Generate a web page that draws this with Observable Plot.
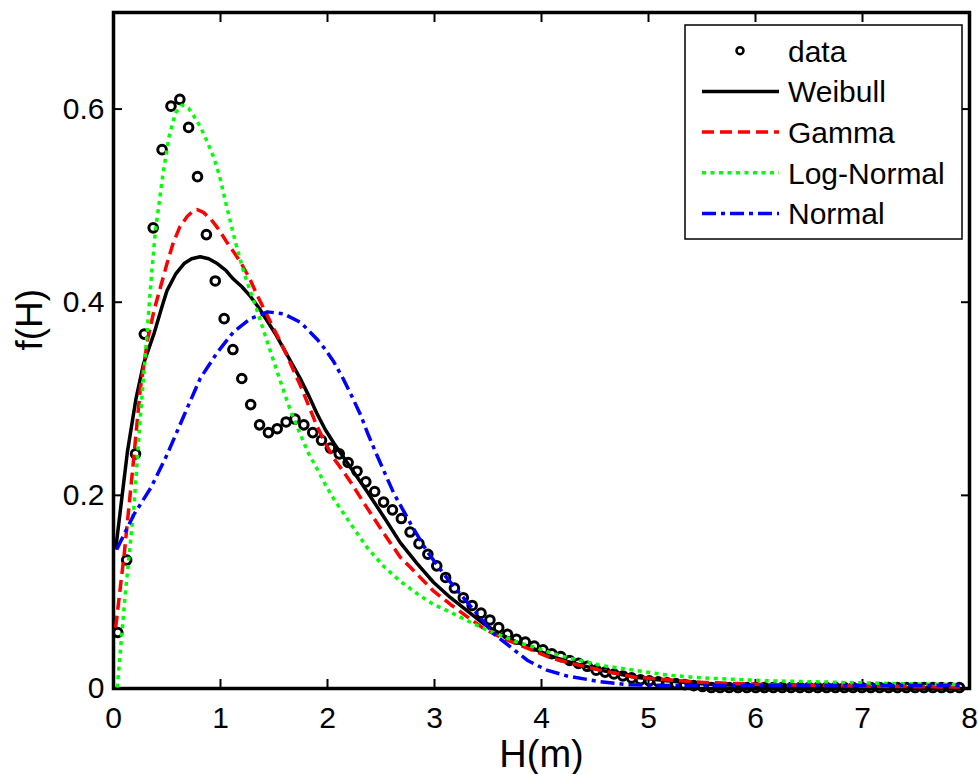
<!DOCTYPE html>
<html><head><meta charset="utf-8">
<script src="https://cdn.jsdelivr.net/npm/d3@7"></script>
<script src="https://cdn.jsdelivr.net/npm/@observablehq/plot@0.6"></script>
<style>body{margin:0;background:#fff}</style>
</head><body><div id="chart"></div>
<script>
// ---- data ----
const dataX = [0.040,0.123,0.206,0.288,0.371,0.454,0.537,0.620,0.702,0.785,0.868,0.951,1.034,1.116,1.199,1.282,1.365,1.448,1.530,1.613,1.696,1.779,1.862,1.944,2.027,2.110,2.193,2.276,2.358,2.441,2.524,2.607,2.690,2.772,2.855,2.938,3.021,3.104,3.186,3.269,3.352,3.435,3.518,3.600,3.683,3.766,3.849,3.932,4.014,4.097,4.180,4.263,4.346,4.428,4.511,4.594,4.677,4.760,4.842,4.925,5.008,5.091,5.174,5.256,5.339,5.422,5.505,5.588,5.670,5.753,5.836,5.919,6.002,6.084,6.167,6.250,6.333,6.416,6.498,6.581,6.664,6.747,6.830,6.912,6.995,7.078,7.161,7.244,7.326,7.409,7.492,7.575,7.658,7.740,7.823,7.906];
const dataY = [0.058,0.133,0.243,0.367,0.477,0.558,0.603,0.610,0.581,0.530,0.470,0.422,0.383,0.351,0.321,0.294,0.273,0.265,0.269,0.276,0.279,0.273,0.265,0.257,0.249,0.243,0.234,0.225,0.214,0.204,0.193,0.185,0.176,0.162,0.150,0.139,0.127,0.115,0.104,0.094,0.086,0.078,0.071,0.063,0.056,0.051,0.048,0.044,0.040,0.036,0.033,0.029,0.026,0.023,0.019,0.017,0.015,0.013,0.011,0.009,0.008,0.007,0.006,0.005,0.004,0.003,0.002,0.001,0.001,0.001,0.001,0.001,0.001,0.001,0.001,0.001,0.001,0.001,0.001,0.001,0.001,0.001,0.001,0.001,0.001,0.001,0.001,0.001,0.001,0.001,0.001,0.001,0.001,0.001,0.001,0.001];

const weibullX = [0.02,0.13,0.21,0.28,0.38,0.46,0.50,0.58,0.66,0.73,0.81,0.89,0.97,1.05,1.12,1.20,1.28,1.36,1.44,1.52,1.59,1.67,1.75,1.83,1.90,1.98,2.06,2.14,2.22,2.37,2.53,2.68,2.84,2.99,3.15,3.31,3.46,3.62,3.77,3.93,4.08,4.24,4.55,4.86,5.17,5.49,6.11,6.73,7.35,7.91];
const weibullY = [0.144,0.245,0.300,0.336,0.368,0.398,0.412,0.429,0.440,0.445,0.447,0.445,0.440,0.433,0.424,0.416,0.406,0.394,0.380,0.366,0.352,0.336,0.320,0.302,0.285,0.268,0.254,0.241,0.228,0.204,0.177,0.151,0.129,0.110,0.094,0.080,0.067,0.056,0.048,0.041,0.034,0.028,0.019,0.012,0.008,0.005,0.002,0.001,0.0005,0.0002];

const gammaX = [0.02,0.10,0.18,0.25,0.32,0.38,0.44,0.50,0.56,0.62,0.69,0.74,0.78,0.84,0.91,0.98,1.06,1.13,1.19,1.27,1.34,1.42,1.50,1.56,1.62,1.68,1.75,1.82,1.90,1.98,2.06,2.14,2.22,2.37,2.53,2.68,2.84,2.99,3.15,3.31,3.46,3.62,3.77,3.93,4.08,4.24,4.55,4.86,5.17,5.49,6.11,6.73,7.35,7.91];
const gammaY = [0.063,0.139,0.228,0.310,0.362,0.392,0.416,0.440,0.462,0.478,0.489,0.494,0.496,0.493,0.486,0.476,0.462,0.451,0.441,0.425,0.408,0.390,0.372,0.359,0.345,0.330,0.313,0.294,0.272,0.254,0.238,0.226,0.213,0.187,0.160,0.136,0.118,0.101,0.087,0.074,0.062,0.053,0.046,0.039,0.032,0.027,0.019,0.012,0.009,0.0065,0.004,0.003,0.002,0.0015];

const logNormalX = [0.035,0.11,0.19,0.25,0.30,0.35,0.39,0.46,0.52,0.58,0.64,0.70,0.75,0.82,0.88,0.94,0.99,1.06,1.14,1.22,1.34,1.44,1.56,1.65,1.75,1.82,1.90,1.98,2.06,2.14,2.22,2.37,2.53,2.68,2.84,2.99,3.15,3.31,3.46,3.62,3.77,3.93,4.08,4.24,4.55,4.86,5.17,5.49,6.11,6.73,7.35,7.91];
const logNormalY = [0.001,0.098,0.187,0.280,0.348,0.421,0.472,0.531,0.572,0.596,0.604,0.601,0.593,0.580,0.565,0.549,0.531,0.498,0.462,0.430,0.392,0.358,0.318,0.289,0.262,0.244,0.228,0.211,0.196,0.183,0.170,0.146,0.126,0.111,0.098,0.087,0.079,0.070,0.062,0.055,0.048,0.043,0.037,0.032,0.024,0.019,0.014,0.011,0.008,0.0065,0.005,0.004];

const normalX = [0.03,0.19,0.35,0.50,0.66,0.81,0.97,1.12,1.28,1.44,1.59,1.75,1.90,1.98,2.06,2.15,2.23,2.31,2.38,2.46,2.54,2.62,2.70,2.78,2.93,3.09,3.24,3.40,3.55,3.71,3.87,4.05,4.24,4.55,4.80,5.20,5.80,6.50,7.20,7.91];
const normalY = [0.144,0.180,0.208,0.242,0.283,0.321,0.348,0.369,0.383,0.390,0.388,0.379,0.362,0.351,0.338,0.320,0.302,0.283,0.263,0.242,0.222,0.202,0.186,0.170,0.142,0.118,0.098,0.077,0.057,0.043,0.029,0.019,0.013,0.007,0.004,0.003,0.003,0.003,0.003,0.003];

const xTicks = [0,1,2,3,4,5,6,7,8];
const yTicks = [0,0.2,0.4,0.6];
const legendLabels = ["data","Weibull","Gamma","Log-Normal","Normal"];
const xLabel = "H(m)";
const yLabel = "f(H)";

// ---- drawing ----
const font = "'Liberation Sans', Arial, Helvetica, sans-serif";
const rows = (xs, ys) => xs.map((x, i) => ({x, y: ys[i]}));
const seriesStyle = [
  {stroke: "#000000", dash: null},
  {stroke: "#ff0000", dash: "12,6"},
  {stroke: "#00ff00", dash: "4,4.5"},
  {stroke: "#0000ff", dash: "14,5,4,5"}
];
const curves = [rows(weibullX, weibullY), rows(gammaX, gammaY), rows(logNormalX, logNormalY), rows(normalX, normalY)];

const plot = Plot.plot({
  width: 978, height: 774,
  marginLeft: 113, marginRight: 9, marginTop: 12, marginBottom: 86,
  style: {fontFamily: font, background: "white", color: "black", overflow: "visible"},
  x: {domain: [0, 8]},
  y: {domain: [0, 0.7]},
  marks: [
    Plot.frame({stroke: "black", strokeWidth: 3.5}),
    Plot.axisX(xTicks, {anchor: "bottom", tickSize: 9, fill: "none", dy: -9, strokeWidth: 2, label: null}),
    Plot.axisX(xTicks, {anchor: "top", tickSize: 9, fill: "none", dy: 9, strokeWidth: 2, label: null}),
    Plot.axisY(yTicks, {anchor: "left", tickSize: 9, fill: "none", dx: 9, strokeWidth: 2, label: null}),
    Plot.axisY(yTicks, {anchor: "right", tickSize: 9, fill: "none", dx: -9, strokeWidth: 2, label: null}),
    Plot.dot(rows(dataX, dataY), {x: "x", y: "y", r: 4.3, stroke: "black", strokeWidth: 3, fill: "none"}),
    ...curves.map((c, i) => Plot.line(c, {x: "x", y: "y", stroke: seriesStyle[i].stroke, strokeWidth: 3.5, strokeDasharray: seriesStyle[i].dash, strokeLinecap: "butt", curve: "linear"})),
    Plot.axisX(xTicks, {anchor: "bottom", tickSize: 0, tickPadding: 18, fontSize: 30, label: null, tickFormat: d => String(d)}),
    Plot.axisY(yTicks, {anchor: "left", tickSize: 0, tickPadding: 9, fontSize: 30, label: null, tickFormat: d => String(d)}),
    Plot.text([xLabel], {frameAnchor: "bottom", dy: 66, fontSize: 38, lineAnchor: "middle"}),
    Plot.text([yLabel], {frameAnchor: "left", dx: -83, rotate: -90, fontSize: 37, lineAnchor: "middle"})
  ]
});
document.getElementById("chart").appendChild(plot);

// legend (MATLAB-style box, top right)
const svg = d3.select(plot);
const lg = svg.append("g").attr("font-family", font).attr("font-size", 30).attr("fill", "black").attr("text-anchor", "start");
lg.append("rect").attr("x", 685).attr("y", 25).attr("width", 277).attr("height", 214)
  .attr("fill", "white").attr("stroke", "black").attr("stroke-width", 1.5);
legendLabels.forEach((lab, i) => {
  const cy = 50.7 + i * 40.7;
  if (i === 0) {
    lg.append("circle").attr("cx", 740).attr("cy", cy).attr("r", 3.5)
      .attr("fill", "none").attr("stroke", "black").attr("stroke-width", 2.5);
  } else {
    const s = seriesStyle[i - 1];
    lg.append("line").attr("x1", 702).attr("x2", 779).attr("y1", cy).attr("y2", cy)
      .attr("stroke", s.stroke).attr("stroke-width", 3.5)
      .attr("stroke-dasharray", s.dash || null);
  }
  lg.append("text").attr("x", 788).attr("y", cy).attr("dy", "0.36em").attr("text-anchor", "start").text(lab);
});
</script>
</body></html>
